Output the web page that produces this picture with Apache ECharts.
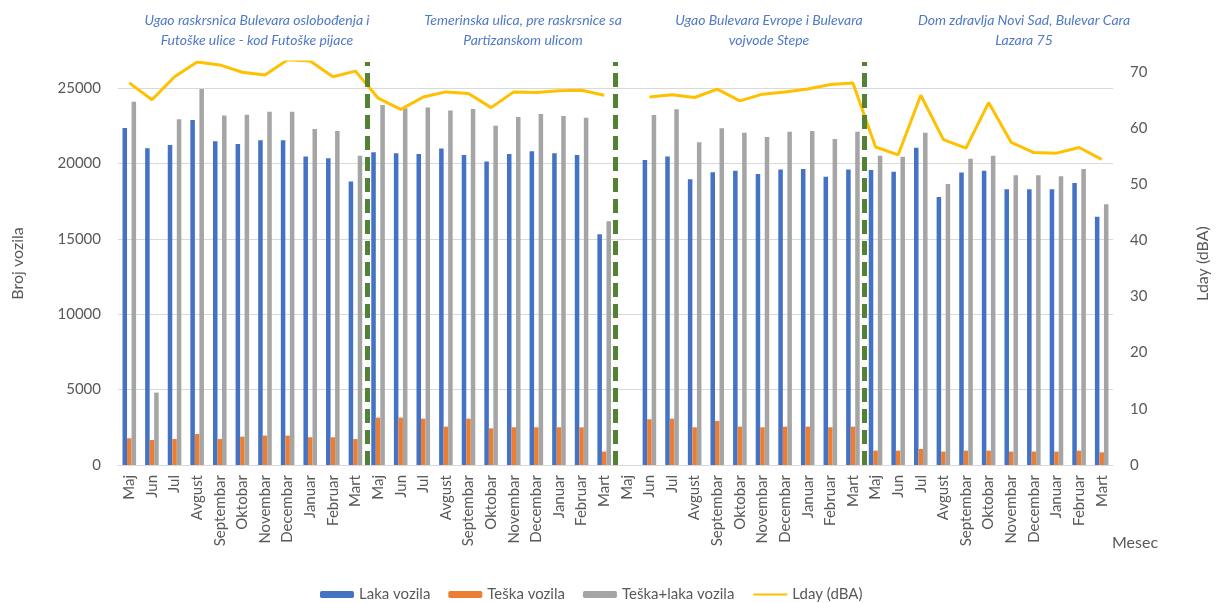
<!DOCTYPE html>
<html>
<head>
<meta charset="utf-8">
<script src="https://cdn.jsdelivr.net/npm/echarts@6/dist/echarts.min.js"></script>
<style>
  html, body { margin: 0; padding: 0; background: #ffffff; }
  #chart { width: 1219px; height: 603px; }
</style>
</head>
<body>
<div id="chart"></div>
<script>
// Months of one measuring season (May .. March)
const months = ['Maj', 'Jun', 'Jul', 'Avgust', 'Septembar', 'Oktobar', 'Novembar', 'Decembar', 'Januar', 'Februar', 'Mart'];

// Measuring sites, two text lines each
const sites = [
  ['Ugao raskrsnica Bulevara oslobođenja i', 'Futoške ulice - kod Futoške pijace'],
  ['Temerinska ulica, pre raskrsnice sa', 'Partizanskom ulicom'],
  ['Ugao Bulevara Evrope i Bulevara', 'vojvode Stepe'],
  ['Dom zdravlja Novi Sad, Bulevar Cara', 'Lazara 75']
];

// Light vehicles per month, one row per site (null = no measurement)
const lakaVozila = [
  22350, 21000, 21220, 22880, 21470, 21290, 21530, 21530, 20450, 20340, 18800,
  20740, 20670, 20630, 20980, 20560, 20120, 20630, 20800, 20670, 20560, 15300,
  null,  20230, 20450, 18950, 19410, 19520, 19300, 19590, 19630, 19120, 19590,
  19560, 19450, 21040, 17770, 19390, 19520, 18280, 18280, 18280, 18700, 16470
];

// Heavy vehicles per month
const teskaVozila = [
  1770, 1660, 1720, 2060, 1720, 1880, 1950, 1950, 1840, 1840, 1720,
  3140, 3140, 3070, 2540, 3070, 2430, 2500, 2500, 2500, 2500, 890,
  null, 3030, 3070, 2500, 2920, 2540, 2500, 2540, 2540, 2500, 2540,
  950,  950,  1060, 890,  950,  950,  890,  890,  890,  950,  840
];

// Heavy + light vehicles per month
const ukupnoVozila = [
  24090, 4800,  22920, 24930, 23170, 23230, 23430, 23430, 22280, 22150, 20510,
  23870, 23650, 23700, 23500, 23610, 22500, 23080, 23280, 23140, 23030, 16160,
  null,  23210, 23590, 21400, 22330, 22040, 21750, 22100, 22150, 21620, 22100,
  20510, 20440, 22040, 18630, 20310, 20510, 19210, 19210, 19150, 19630, 17290
];

// Day noise level Lday in dBA
const lday = [
  68.0, 65.0, 69.1, 71.7, 71.2, 69.9, 69.4, 72.1, 71.9, 69.1, 70.1,
  65.3, 63.3, 65.5, 66.4, 66.1, 63.6, 66.4, 66.3, 66.6, 66.7, 65.8,
  null, 65.5, 65.9, 65.4, 66.9, 64.8, 66.0, 66.4, 66.9, 67.7, 68.0,
  56.6, 55.2, 65.8, 57.9, 56.4, 64.5, 57.4, 55.6, 55.5, 56.5, 54.4
];

const categories = sites.flatMap(() => months);
// Dividers sit between the last month of one site and the first of the next
const dividers = sites.slice(1).map((s, i) => (i + 1) * months.length - 0.5);

const FONT = 'Lato, "Open Sans", sans-serif';
const TXT = '#595959';
const GRID = '#d9d9d9';

// Site captions above the plot
const captionX = [257, 523, 769, 1024];
const captions = sites.map((lines, i) => ({
  type: 'text',
  x: captionX[i],
  y: 10,
  style: {
    text: lines.join('\n'),
    fill: '#5079c8',
    font: 'italic 14px ' + FONT,
    align: 'center',
    lineHeight: 20
  }
}));

const chart = echarts.init(document.getElementById('chart'), null, { renderer: 'canvas' });

chart.setOption({
  animation: false,
  backgroundColor: '#ffffff',
  grid: { left: 118, right: 99, top: 62, bottom: 138, containLabel: false },
  legend: {
    top: 582,
    left: 315,
    itemWidth: 34,
    itemHeight: 7,
    itemGap: 18,
    textStyle: { color: TXT, fontSize: 15, fontFamily: FONT },
    data: [
      'Laka vozila',
      'Teška vozila',
      'Teška+laka vozila',
      { name: 'Lday (dBA)', itemStyle: { opacity: 0 } }
    ]
  },
  xAxis: [
    {
      type: 'category',
      data: categories,
      axisLine: { lineStyle: { color: GRID, width: 1 } },
      axisTick: { show: false },
      axisLabel: {
        interval: 0,
        rotate: 90,
        margin: 10,
        color: TXT,
        fontSize: 15,
        fontFamily: FONT
      }
    },
    {
      type: 'value',
      min: -0.5,
      max: categories.length - 0.5,
      show: false
    }
  ],
  yAxis: [
    {
      type: 'value',
      min: 0,
      max: 26724,
      interval: 5000,
      name: 'Broj vozila',
      nameLocation: 'middle',
      nameRotate: 90,
      nameGap: 92,
      nameTextStyle: { color: TXT, fontSize: 16, fontFamily: FONT },
      axisLine: { show: false },
      axisTick: { show: false },
      axisLabel: {
        color: TXT, fontSize: 15, fontFamily: FONT, margin: 17, showMaxLabel: false,
        formatter: v => String(v)
      },
      splitLine: { lineStyle: { color: GRID, width: 1 }, showMaxLine: false }
    },
    {
      type: 'value',
      min: 0,
      max: 71.72,
      interval: 10,
      name: 'Lday (dBA)',
      nameLocation: 'middle',
      nameRotate: 90,
      nameGap: 82,
      nameTextStyle: { color: TXT, fontSize: 16, fontFamily: FONT },
      axisLine: { show: false },
      axisTick: { show: false },
      axisLabel: { color: TXT, fontSize: 15, fontFamily: FONT, margin: 17, showMaxLabel: false },
      splitLine: { show: false }
    }
  ],
  graphic: captions.concat([{
    type: 'text',
    x: 1112,
    y: 535,
    style: { text: 'Mesec', fill: TXT, font: '16px ' + FONT }
  }]),
  series: [
    {
      name: 'Laka vozila',
      type: 'bar',
      data: lakaVozila,
      barGap: '0%',
      barCategoryGap: '40%',
      itemStyle: { color: '#4472c4' }
    },
    {
      name: 'Teška vozila',
      type: 'bar',
      data: teskaVozila,
      itemStyle: { color: '#ed7d31' }
    },
    {
      name: 'Teška+laka vozila',
      type: 'bar',
      data: ukupnoVozila,
      itemStyle: { color: '#a5a5a5' }
    },
    {
      name: 'Lday (dBA)',
      type: 'line',
      yAxisIndex: 1,
      data: lday,
      symbol: 'none',
      connectNulls: false,
      lineStyle: { color: '#ffc000', width: 3 },
      itemStyle: { color: '#ffc000' },
      z: 4
    },
    {
      name: 'granice',
      type: 'line',
      xAxisIndex: 1,
      yAxisIndex: 0,
      data: [],
      z: 5,
      markLine: {
        silent: true,
        symbol: ['none', 'none'],
        label: { show: false },
        lineStyle: { color: '#548235', width: 5, type: [14, 7] },
        data: dividers.map(v => ({ xAxis: v }))
      }
    }
  ]
});
</script>
</body>
</html>
